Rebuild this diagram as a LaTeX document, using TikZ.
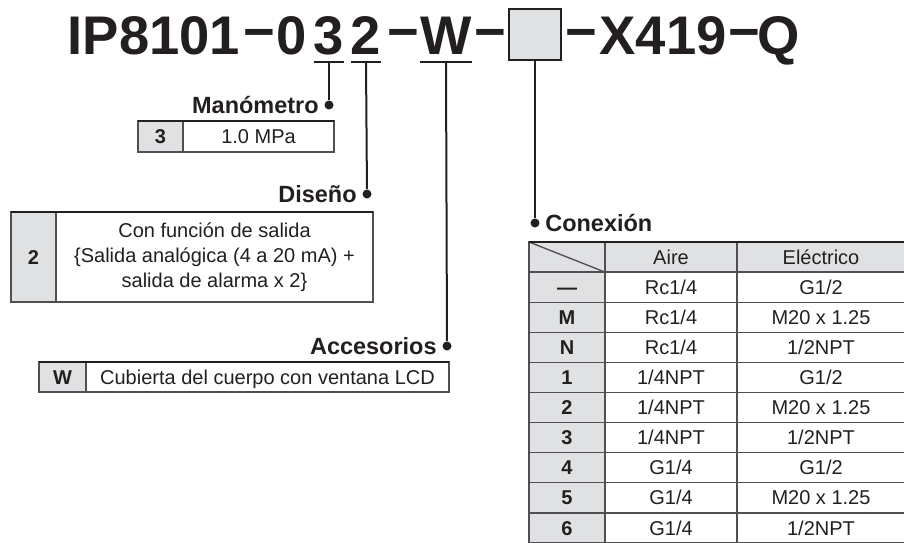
\documentclass[tikz,border=0pt]{standalone}
\usepackage{fontspec}
\setmainfont{Liberation Sans}
\usetikzlibrary{positioning}
\definecolor{cellgray}{RGB}{224,225,227}
\definecolor{ink}{RGB}{35,31,32}
\definecolor{rule}{RGB}{80,80,82}
\newcommand\cellfont{\fontsize{15}{18.75}\selectfont}

\begin{document}
\begin{tikzpicture}[x=0.75pt, y=-0.75pt,
  every node/.style={text=ink},
  title/.style={font=\fontsize{40.8}{41}\selectfont\bfseries, inner sep=0pt, anchor=base},
  minus/.style={title, yshift=3pt},
  slot/.style={draw=ink, fill=cellgray, line width=1.5pt, minimum width=39pt, minimum height=38pt},
  lead/.style={draw=ink, line width=1.5pt},
  dot/.style={circle, fill=ink, inner sep=0pt, minimum size=6.75pt},
  lbl/.style={font=\fontsize{17.6}{20}\selectfont\bfseries, inner sep=0pt,
              text height=12.6pt, text depth=0pt},
  box/.style={draw=rule, line width=1pt, inner sep=0pt, outer sep=0pt, font=\cellfont},
  cell/.style={box, text height=10.7pt, text depth=0pt, minimum height=22.6pt},
  keycell/.style={cell, fill=cellgray, font=\cellfont\bfseries},
  topline/.style={draw=ink, line width=1.5pt}]

\useasboundingbox (0,0) rectangle (904,543);

% ---------- model code ----------
\node[title] (tpre) at (154,54) {IP8101};
\node[minus] (m1)   at (259,54) {−};
\node[title] (d0)   at (292,54) {0};
\node[title] (d3)   at (329,54) {3};
\node[title] (d2)   at (366,54) {2};
\node[minus] (m2)   at (403,54) {−};
\node[title] (dw)   at (446,54) {W};
\node[minus] (m3)   at (490,54) {−};
\node[slot]  (dbox) at (535,34.5) {};
\node[minus] (m4)   at (581,54) {−};
\node[title] (tsuf) at (663,54) {X419};
\node[minus] (m5)   at (744,54) {−};
\node[title] (dq)   at (779,54) {Q};

\draw[lead] ([yshift=-6pt]d3.base west) -- ([yshift=-6pt]d3.base east);
\draw[lead] ([yshift=-6pt]d2.base west) -- ([yshift=-6pt]d2.base east);
\draw[lead] ([yshift=-6pt]dw.base west) -- ([yshift=-6pt]dw.base east);
\coordinate (u3) at ([yshift=-6pt]d3.base);
\coordinate (u2) at ([yshift=-6pt]d2.base);
\coordinate (uw) at ([yshift=-6pt]dw.base);

% ---------- Manómetro ----------
\node[dot] (dotM) at (329,105) {};
\node[lbl, left=4pt of dotM] (mano) {Manómetro};
\node[keycell, minimum width=33.75pt, minimum height=23.25pt] (k3) at (160.5,136.5) {3};
\node[cell, right=0pt of k3, minimum width=113.25pt, minimum height=23.25pt] (v3) {1.0 MPa};
\draw[topline] (k3.north west) -- (v3.north east);
\draw[lead] (u3) -- (dotM);

% ---------- Diseño ----------
\node[dot] (dotD) at (367,194) {};
\node[lbl, left=4pt of dotD] (dise) {Diseño};
\node[keycell, minimum width=33.75pt, minimum height=67.5pt] (k2) at (33.5,257) {2};
\node[box, right=0pt of k2, minimum width=237.75pt, minimum height=67.5pt, align=center] (v2)
  {Con función de salida\\\{Salida analógica (4 a 20 mA) +\\salida de alarma x 2\}};
\draw[topline] (k2.north west) -- (v2.north east);
\draw[lead] (u2) -- (dotD);

% ---------- Accesorios ----------
\node[dot] (dotA) at (447,346) {};
\node[lbl, left=4pt of dotA] (acce) {Accesorios};
\node[keycell, minimum width=35.25pt, minimum height=22.5pt] (kw) at (62.5,377) {W};
\node[cell, right=0pt of kw, minimum width=272.25pt, minimum height=22.5pt] (vw)
  {Cubierta del cuerpo con ventana LCD};
\draw[topline] (kw.north west) -- (vw.north east);
\draw[lead] (uw) -- (dotA);

% ---------- Conexión ----------
\node[dot] (dotC) at (535,223) {};
\node[lbl, right=4pt of dotC] (cone) {Conexión};
\draw[lead] (dbox) -- (dotC);

\node[keycell, minimum width=57pt] (hkey) at (567,257.05) {};
\node[keycell, font=\cellfont, minimum width=99pt] (hair) at (671,257.05) {Aire};
\node[keycell, font=\cellfont, minimum width=126pt] (hele) at (821,257.05) {Eléctrico};
\draw[rule, line width=1pt] (hkey.north west) -- (hkey.south east);

\foreach \key/\air/\ele [count=\k] in {{—}/{Rc1/4}/{G1/2}, M/{Rc1/4}/{M20 x 1.25},
    N/{Rc1/4}/{1/2NPT}, 1/{1/4NPT}/{G1/2}, 2/{1/4NPT}/{M20 x 1.25},
    3/{1/4NPT}/{1/2NPT}, 4/{G1/4}/{G1/2}, 5/{G1/4}/{M20 x 1.25}, 6/{G1/4}/{1/2NPT}} {
  \node[keycell, minimum width=57pt] (key-\k) at (567,{257.05+30.1*\k}) {\key};
  \node[cell, minimum width=99pt] (air-\k) at (671,{257.05+30.1*\k}) {\air};
  \node[cell, minimum width=126pt] (ele-\k) at (821,{257.05+30.1*\k}) {\ele};
}
\draw[topline] (hkey.north west) -- (hele.north east);
\end{tikzpicture}
\end{document}
